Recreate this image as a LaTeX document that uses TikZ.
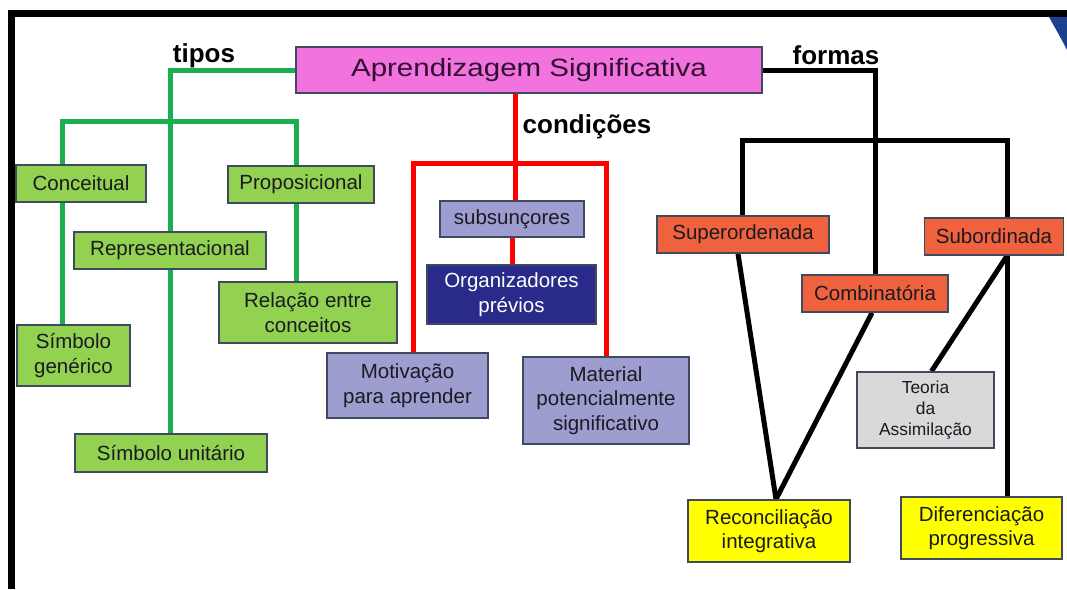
\documentclass[tikz,border=0pt]{standalone}
\usepackage{fontspec}
\setmainfont{Liberation Sans}
\newfontfamily\titlefont{Liberation Sans}[FakeStretch=1.18]
\usetikzlibrary{calc}
\pgfdeclarelayer{bg}
\pgfsetlayers{bg,main}
\definecolor{gfill}{HTML}{93D150}
\definecolor{lfill}{HTML}{9D9DD0}
\definecolor{nfill}{HTML}{2A2A8A}
\definecolor{ofill}{HTML}{F0623E}
\definecolor{pfill}{HTML}{F272DE}
\definecolor{ptxt}{HTML}{301030}
\definecolor{tfill}{HTML}{D9D9D9}
\definecolor{yfill}{HTML}{FFFF00}
\definecolor{gline}{HTML}{1BAE4E}
\definecolor{edge}{HTML}{404A5E}
\definecolor{txt}{HTML}{1A1A22}
\definecolor{corner}{HTML}{1F3F8F}
\tikzset{
  box/.style={draw=edge, line width=1.6pt, rectangle, inner sep=2pt, align=center,
    text=txt, font=\fontsize{20.5}{24.5}\selectfont},
  gbox/.style={box, fill=gfill},
  lbox/.style={box, fill=lfill},
  nbox/.style={box, fill=nfill, text=white},
  obox/.style={box, fill=ofill},
  ybox/.style={box, fill=yfill},
  tbox/.style={box, fill=tfill, font=\fontsize{17.4}{21}\selectfont},
  lab/.style={font=\bfseries\fontsize{26}{30}\selectfont, text=black, inner sep=0pt},
  gcon/.style={draw=gline, line width=5pt},
  rcon/.style={draw=red, line width=5pt},
  bcon/.style={draw=black, line width=5pt},
}
\begin{document}
\begin{tikzpicture}[x=1pt,y=-1pt]
\useasboundingbox (0,0) rectangle (1067,589);
% frame
\fill[black] (8,10) rectangle (1067,17);
\fill[black] (8,10) rectangle (15,589);
\fill[corner] (1049,17) .. controls (1055,28) and (1061,38) .. (1067,50) -- (1067,17) -- cycle;

% nodes
\node[box, fill=pfill, text=ptxt, minimum width=466pt, minimum height=46pt,
  font=\titlefont\fontsize{25}{30}\selectfont] (title) at (529,70) {Aprendizagem Significativa};
\node[lab] (tipos) at (204,56) {tipos};
\node[lab] (formas) at (836,55) {formas};
\node[lab] (cond) at (587,127) {condições};

\node[gbox, minimum width=130pt, minimum height=37pt] (conc) at (81,183.5) {Conceitual};
\node[gbox, minimum width=146pt, minimum height=37pt] (prop) at (301,184.5) {Proposicional};
\node[gbox, minimum width=192pt, minimum height=37pt] (rep) at (170,250.5) {Representacional};
\node[gbox, minimum width=178pt, minimum height=61pt] (rel) at (308,312.5) {Relação entre\\conceitos};
\node[gbox, minimum width=113pt, minimum height=61pt] (gen) at (73.5,355.5) {Símbolo\\genérico};
\node[gbox, minimum width=192pt, minimum height=38pt] (uni) at (171,453) {Símbolo unitário};

\node[lbox, minimum width=144pt, minimum height=36pt] (subs) at (512,219) {subsunçores};
\node[nbox, minimum width=169pt, minimum height=59pt] (org) at (511.5,294.5) {Organizadores\\prévios};
\node[lbox, minimum width=161pt, minimum height=65pt] (mot) at (407.5,385.5) {Motivação\\para aprender};
\node[lbox, minimum width=166pt, minimum height=87pt] (mat) at (606,400.5) {Material\\potencialmente\\significativo};

\node[obox, minimum width=172pt, minimum height=37pt] (sup) at (743,234.5) {Superordenada};
\node[obox, minimum width=139pt, minimum height=37pt] (sub) at (994,236.5) {Subordinada};
\node[obox, minimum width=146pt, minimum height=37pt] (comb) at (875,293.5) {Combinatória};
\node[tbox, minimum width=137pt, minimum height=76pt] (teo) at (925.5,410) {Teoria\\da\\Assimilação};
\node[ybox, minimum width=162pt, minimum height=62pt] (rec) at (769,531) {Reconciliação\\integrativa};
\node[ybox, minimum width=161pt, minimum height=62pt] (dif) at (981.5,528) {Diferenciação\\progressiva};

% connectors
\begin{pgfonlayer}{bg}
\coordinate (gL) at (62,121);
\coordinate (gR) at (296,121);
\draw[gcon] (title.west) -| (rep.north);
\draw[gcon] (gL |- conc.north) -- (gL) -- (gR) -- (gR |- prop.north);
\draw[gcon] (gL |- conc.south) -- (gL |- gen.north);
\draw[gcon] (rep.south) -- (rep.south |- uni.north);
\draw[gcon] (gR |- prop.south) -- (gR |- rel.north);

\coordinate (rC) at (515,163);
\coordinate (rL) at (413,163);
\coordinate (rR) at (606,163);
\draw[rcon] (rC |- title.south) -- (rC |- subs.north);
\draw[rcon] (rL |- mot.north) -- (rL) -- (rR) -- (rR |- mat.north);
\draw[rcon] (subs.south) -- (subs.south |- org.north);

\coordinate (bL) at (742,140);
\coordinate (bR) at (1007,140);
\draw[bcon] (title.east) -| (comb.north);
\draw[bcon] (bL |- sup.north) -- (bL) -- (bR) -- (bR |- sub.north);
\draw[bcon] ([xshift=-5pt]sup.south) -- ([xshift=7pt]rec.north);
\draw[bcon] ([xshift=-3pt]comb.south) -- ([xshift=7pt]rec.north);
\draw[bcon] (bR |- sub.south) -- ([xshift=6pt]teo.north);
\draw[bcon] (bR |- sub.south) -- (bR |- dif.north);
\end{pgfonlayer}
\end{tikzpicture}
\end{document}
